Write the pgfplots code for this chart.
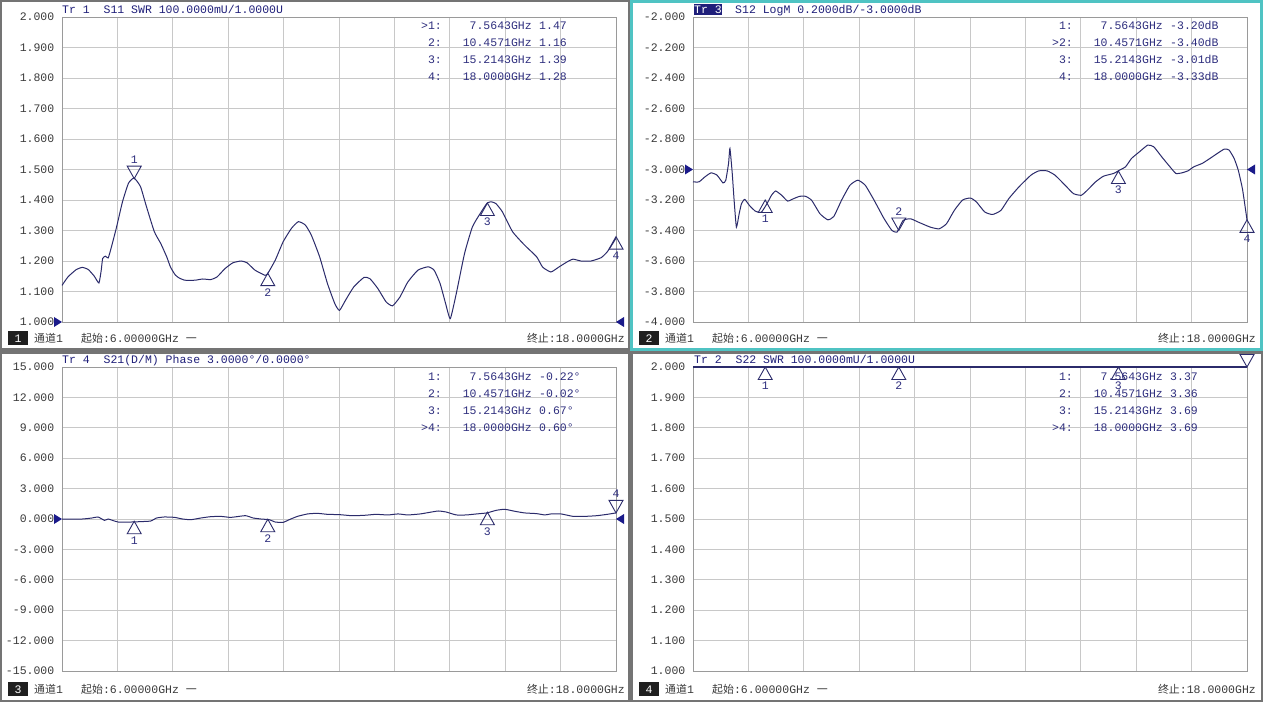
\documentclass[border=0pt]{standalone}
\usepackage{pgfplots}
\pgfplotsset{compat=1.18}
\usepackage{fontspec}
\setmainfont{Liberation Mono}
\newfontfamily\cjk[Scale=0.95]{Noto Sans CJK SC}
\definecolor{framec}{HTML}{747474}
\definecolor{tealc}{HTML}{4FC3C3}
\definecolor{gridc}{HTML}{C8C8C8}
\definecolor{axisc}{HTML}{9A9A9A}
\definecolor{tracec}{HTML}{2B2B6B}
\definecolor{titlec}{HTML}{1F1F7A}
\definecolor{mtxt}{HTML}{2E2E7E}
\definecolor{tickc}{HTML}{3A3A3A}
\definecolor{refc}{HTML}{1A1A8A}

\pgfdeclareplotmark{mkup}{\pgfpathmoveto{\pgfpointorigin}\pgfpathlineto{\pgfpoint{-7pt}{-12.5pt}}\pgfpathlineto{\pgfpoint{7pt}{-12.5pt}}\pgfpathclose\pgfusepathqstroke}
\pgfdeclareplotmark{mkdn}{\pgfpathmoveto{\pgfpointorigin}\pgfpathlineto{\pgfpoint{-7pt}{12.5pt}}\pgfpathlineto{\pgfpoint{7pt}{12.5pt}}\pgfpathclose\pgfusepathqstroke}
\pgfdeclareplotmark{refL}{\pgfpathmoveto{\pgfpointorigin}\pgfpathlineto{\pgfpoint{-8pt}{5pt}}\pgfpathlineto{\pgfpoint{-8pt}{-5pt}}\pgfpathclose\pgfusepathqfill}
\pgfdeclareplotmark{refR}{\pgfpathmoveto{\pgfpointorigin}\pgfpathlineto{\pgfpoint{8pt}{5pt}}\pgfpathlineto{\pgfpoint{8pt}{-5pt}}\pgfpathclose\pgfusepathqfill}

\pgfkeys{/pgf/number format/assume math mode=true}
\pgfplotsset{vna/.style={
  scale only axis, width=554pt, anchor=south west,
  xmin=6, xmax=18, xtick={7.2,8.4,9.6,10.8,12,13.2,14.4,15.6,16.8}, xticklabels={},
  xmajorgrids, ymajorgrids,
  major grid style={color=gridc, line width=0.8pt},
  axis line style={color=axisc, line width=0.8pt},
  major tick length=0pt, clip=false,
  tick label style={font=\fontsize{11.5}{12}\selectfont, text=tickc},
  yticklabel style={anchor=east, inner sep=0pt, xshift=-7.5pt,
    /pgf/number format/.cd, fixed, fixed zerofill, precision=3, assume math mode=true},
}}
\newcommand\mrow[5]{%
  \node[anchor=base east, inner sep=0pt, text=mtxt] at (#1+380,#2) {#3};
  \node[anchor=base east, inner sep=0pt, text=mtxt] at (#1+470,#2) {#4};
  \node[anchor=base west, inner sep=0pt, text=mtxt] at (#1+477,#2) {#5};}
\newcommand\status[3]{%
  \fill[black!88] (#1+8,#2-6) rectangle (#1+28,#2+8);
  \node[anchor=base, inner sep=0pt, text=white] at (#1+18,#2-3.5) {#3};
  \node[anchor=base west, inner sep=0pt, text=tickc] at (#1+34,#2-3.5) {{\cjk 通道}1};
  \node[anchor=base west, inner sep=0pt, text=tickc] at (#1+81,#2-3.5) {{\cjk 起始}:6.00000GHz {\cjk 一}};
  \node[anchor=base east, inner sep=0pt, text=tickc] at (#1+625,#2-3.5) {{\cjk 终止}:18.0000GHz};}

\begin{document}
\fontsize{11.5}{13}\selectfont
\begin{tikzpicture}
\useasboundingbox (0pt,0pt) rectangle (1263pt,702pt);
\begin{scope}[x=1pt,y=1pt]
\fill[framec] (0,0) rectangle (1263,702);
\fill[white] (2,354) rectangle (628,700);
\fill[tealc] (630,351) rectangle (1263,702);
\fill[white] (633,354) rectangle (1260,699);
\fill[white] (2,2) rectangle (628,348);
\fill[white] (633,2) rectangle (1261,348);
\end{scope}

% ---------- Panel 1 : S11 SWR ----------
\begin{axis}[vna, at={(62pt,380pt)}, height=305pt, ymin=1, ymax=2,
  ytick={1,1.1,1.2,1.3,1.4,1.5,1.6,1.7,1.8,1.9,2}]
\addplot[tracec, line width=1pt, smooth, tension=0.3] table {
6.00 1.120
6.13 1.148
6.31 1.172
6.44 1.179
6.57 1.172
6.70 1.150
6.80 1.128
6.85 1.170
6.88 1.208
6.94 1.216
7.00 1.210
7.06 1.240
7.18 1.310
7.31 1.394
7.44 1.455
7.56 1.472
7.70 1.444
7.83 1.378
8.00 1.296
8.14 1.257
8.27 1.213
8.35 1.180
8.45 1.155
8.53 1.145
8.66 1.137
8.88 1.137
9.05 1.141
9.22 1.139
9.36 1.148
9.53 1.175
9.70 1.194
9.88 1.200
10.01 1.194
10.18 1.170
10.40 1.153
10.46 1.160
10.62 1.203
10.79 1.263
10.97 1.307
11.12 1.329
11.27 1.318
11.40 1.285
11.58 1.214
11.75 1.126
11.91 1.060
12.01 1.038
12.14 1.071
12.32 1.115
12.54 1.146
12.67 1.142
12.84 1.110
13.02 1.066
13.16 1.053
13.32 1.082
13.49 1.131
13.71 1.170
13.93 1.181
14.06 1.170
14.19 1.126
14.31 1.060
14.41 1.011
14.54 1.093
14.72 1.225
14.89 1.312
15.06 1.356
15.21 1.390
15.30 1.394
15.40 1.388
15.54 1.361
15.76 1.296
16.02 1.252
16.28 1.214
16.41 1.180
16.59 1.164
16.76 1.180
16.94 1.197
17.07 1.206
17.24 1.200
17.46 1.200
17.68 1.211
17.81 1.230
17.92 1.255
18.00 1.275
};
\addplot[tracec, line width=0.9pt, only marks, mark=mkdn] coordinates {(7.5643,1.47)};
\addplot[tracec, line width=0.9pt, only marks, mark=mkup] coordinates {(10.4571,1.16) (15.2143,1.39) (18,1.28)};
\addplot[refc, only marks, mark=refL] coordinates {(6,1)};
\addplot[refc, only marks, mark=refR] coordinates {(18,1)};
\node[text=mtxt, inner sep=0pt] at ([yshift=19pt]axis cs:7.5643,1.47) {1};
\node[text=mtxt, inner sep=0pt] at ([yshift=-19pt]axis cs:10.4571,1.16) {2};
\node[text=mtxt, inner sep=0pt] at ([yshift=-19pt]axis cs:15.2143,1.39) {3};
\node[text=mtxt, inner sep=0pt] at ([yshift=-19pt]axis cs:18,1.28) {4};
\end{axis}

% ---------- Panel 2 : S12 LogM ----------
\begin{axis}[vna, at={(693pt,380pt)}, height=305pt, ymin=-4, ymax=-2,
  ytick={-4,-3.8,-3.6,-3.4,-3.2,-3,-2.8,-2.6,-2.4,-2.2,-2}]
\addplot[tracec, line width=1pt, smooth, tension=0.3] table {
6.00 -3.081
6.13 -3.081
6.26 -3.048
6.39 -3.022
6.52 -3.037
6.65 -3.088
6.71 -3.070
6.77 -2.960
6.80 -2.862
6.85 -3.026
6.89 -3.200
6.94 -3.378
7.00 -3.290
7.05 -3.224
7.12 -3.196
7.22 -3.235
7.35 -3.273
7.48 -3.280
7.61 -3.220
7.70 -3.169
7.79 -3.141
7.92 -3.169
8.05 -3.207
8.18 -3.191
8.31 -3.176
8.44 -3.176
8.57 -3.202
8.75 -3.290
8.92 -3.330
9.05 -3.308
9.22 -3.200
9.40 -3.103
9.57 -3.070
9.73 -3.103
9.92 -3.200
10.14 -3.323
10.31 -3.400
10.42 -3.410
10.55 -3.334
10.71 -3.323
10.88 -3.345
11.14 -3.378
11.33 -3.389
11.49 -3.356
11.66 -3.268
11.84 -3.200
12.01 -3.187
12.14 -3.213
12.32 -3.279
12.49 -3.295
12.67 -3.268
12.84 -3.191
13.06 -3.114
13.32 -3.037
13.49 -3.009
13.67 -3.009
13.84 -3.037
14.06 -3.103
14.24 -3.158
14.41 -3.169
14.54 -3.136
14.72 -3.081
14.89 -3.044
15.11 -3.026
15.24 -3.004
15.37 -2.982
15.50 -2.927
15.67 -2.884
15.85 -2.840
15.98 -2.851
16.15 -2.916
16.33 -2.982
16.46 -3.026
16.59 -3.022
16.72 -3.009
16.85 -2.982
17.03 -2.960
17.20 -2.927
17.38 -2.890
17.51 -2.866
17.61 -2.872
17.72 -2.927
17.81 -3.004
17.90 -3.125
17.96 -3.246
18.00 -3.330
};
\addplot[tracec, line width=0.9pt, only marks, mark=mkup] coordinates {(7.5643,-3.20) (15.2143,-3.01) (18,-3.33)};
\addplot[tracec, line width=0.9pt, only marks, mark=mkdn] coordinates {(10.4571,-3.40)};
\addplot[refc, only marks, mark=refL] coordinates {(6,-3)};
\addplot[refc, only marks, mark=refR] coordinates {(18,-3)};
\node[text=mtxt, inner sep=0pt] at ([yshift=-19pt]axis cs:7.5643,-3.20) {1};
\node[text=mtxt, inner sep=0pt] at ([yshift=19pt]axis cs:10.4571,-3.40) {2};
\node[text=mtxt, inner sep=0pt] at ([yshift=-19pt]axis cs:15.2143,-3.01) {3};
\node[text=mtxt, inner sep=0pt] at ([yshift=-19pt]axis cs:18,-3.33) {4};
\end{axis}

% ---------- Panel 3 : S21 Phase ----------
\begin{axis}[vna, at={(62pt,31pt)}, height=304pt, ymin=-15, ymax=15,
  ytick={-15,-12,-9,-6,-3,0,3,6,9,12,15}]
\addplot[tracec, line width=1pt, smooth, tension=0.3] table {
6.00 0.00
6.44 0.00
6.65 0.10
6.78 0.20
6.92 -0.13
7.00 0.00
7.09 -0.13
7.22 -0.30
7.48 -0.30
7.70 -0.26
7.92 -0.20
8.05 0.10
8.22 0.20
8.44 0.16
8.61 0.00
8.79 -0.07
9.01 0.10
9.22 0.23
9.44 0.26
9.66 0.16
9.97 0.33
10.14 0.10
10.31 0.00
10.49 -0.07
10.62 -0.30
10.79 -0.33
10.92 -0.07
11.10 0.26
11.32 0.50
11.53 0.56
11.75 0.46
12.01 0.43
12.27 0.33
12.54 0.36
12.80 0.46
13.06 0.40
13.28 0.50
13.49 0.40
13.76 0.50
13.93 0.63
14.15 0.79
14.32 0.69
14.54 0.40
14.76 0.40
14.98 0.50
15.20 0.60
15.41 0.86
15.59 0.96
15.81 0.76
16.02 0.60
16.28 0.53
16.46 0.40
16.59 0.50
16.81 0.50
17.07 0.26
17.33 0.26
17.59 0.33
17.81 0.46
18.00 0.60
};
\addplot[tracec, line width=0.9pt, only marks, mark=mkup] coordinates {(7.5643,-0.22) (10.4571,-0.02) (15.2143,0.67)};
\addplot[tracec, line width=0.9pt, only marks, mark=mkdn] coordinates {(18,0.60)};
\addplot[refc, only marks, mark=refL] coordinates {(6,0)};
\addplot[refc, only marks, mark=refR] coordinates {(18,0)};
\node[text=mtxt, inner sep=0pt] at ([yshift=-19pt]axis cs:7.5643,-0.22) {1};
\node[text=mtxt, inner sep=0pt] at ([yshift=-19pt]axis cs:10.4571,-0.02) {2};
\node[text=mtxt, inner sep=0pt] at ([yshift=-19pt]axis cs:15.2143,0.67) {3};
\node[text=mtxt, inner sep=0pt] at ([yshift=19pt]axis cs:18,0.60) {4};
\end{axis}

% ---------- Panel 4 : S22 SWR ----------
\begin{axis}[vna, at={(693pt,31pt)}, height=304pt, ymin=1, ymax=2,
  ytick={1,1.1,1.2,1.3,1.4,1.5,1.6,1.7,1.8,1.9,2}]
\addplot[tracec, line width=1.4pt] table {
6.00 2.0
18.00 2.0
};
\addplot[tracec, line width=0.9pt, only marks, mark=mkup] coordinates {(7.5643,2) (10.4571,2) (15.2143,2)};
\addplot[tracec, line width=0.9pt, only marks, mark=mkdn] coordinates {(18,2)};
\node[text=mtxt, inner sep=0pt] at ([yshift=-19pt]axis cs:7.5643,2) {1};
\node[text=mtxt, inner sep=0pt] at ([yshift=-19pt]axis cs:10.4571,2) {2};
\node[text=mtxt, inner sep=0pt] at ([yshift=-19pt]axis cs:15.2143,2) {3};
\end{axis}

\begin{scope}[x=1pt,y=1pt]
% ---------- titles ----------
\node[anchor=base west, inner sep=0pt, text=titlec] at (62,688.5) {Tr 1\ \ S11 SWR 100.0000mU/1.0000U};
\node[anchor=base west, inner sep=0pt, text=white, fill=titlec, text height=9pt, text depth=2pt] at (694,688.5) {Tr 3};
\node[anchor=base west, inner sep=0pt, text=titlec] at (735,688.5) {S12 LogM 0.2000dB/-3.0000dB};
\node[anchor=base west, inner sep=0pt, text=titlec] at (62,338.5) {Tr 4\ \ S21(D/M) Phase 3.0000°/0.0000°};
\node[anchor=base west, inner sep=0pt, text=titlec] at (694,338.5) {Tr 2\ \ S22 SWR 100.0000mU/1.0000U};

% ---------- marker tables ----------
\mrow{62}{672}{>1:}{7.5643GHz}{1.47}
\mrow{62}{655}{2:}{10.4571GHz}{1.16}
\mrow{62}{638}{3:}{15.2143GHz}{1.39}
\mrow{62}{621}{4:}{18.0000GHz}{1.28}
\mrow{693}{672}{1:}{7.5643GHz}{-3.20dB}
\mrow{693}{655}{>2:}{10.4571GHz}{-3.40dB}
\mrow{693}{638}{3:}{15.2143GHz}{-3.01dB}
\mrow{693}{621}{4:}{18.0000GHz}{-3.33dB}
\mrow{62}{321}{1:}{7.5643GHz}{-0.22°}
\mrow{62}{304}{2:}{10.4571GHz}{-0.02°}
\mrow{62}{287}{3:}{15.2143GHz}{0.67°}
\mrow{62}{270}{>4:}{18.0000GHz}{0.60°}
\mrow{693}{321}{1:}{7.5643GHz}{3.37}
\mrow{693}{304}{2:}{10.4571GHz}{3.36}
\mrow{693}{287}{3:}{15.2143GHz}{3.69}
\mrow{693}{270}{>4:}{18.0000GHz}{3.69}

% ---------- status bars ----------
\status{0}{362.5}{1}
\status{631}{362.5}{2}
\status{0}{12}{3}
\status{631}{12}{4}
\end{scope}
\end{tikzpicture}
\end{document}
